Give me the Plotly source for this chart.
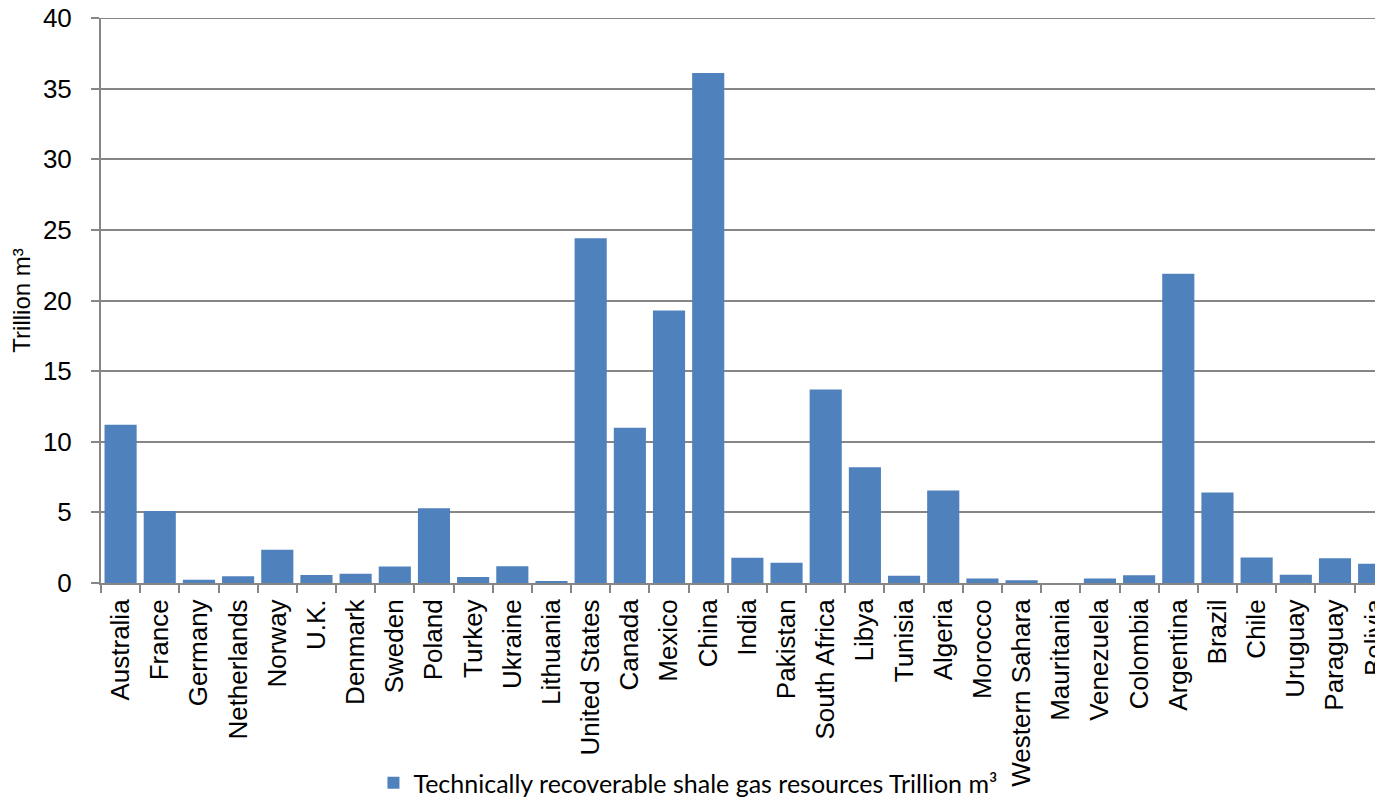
import plotly.graph_objects as go

countries = ["Australia", "France", "Germany", "Netherlands", "Norway", "U.K.", "Denmark",
             "Sweden", "Poland", "Turkey", "Ukraine", "Lithuania", "United States", "Canada",
             "Mexico", "China", "India", "Pakistan", "South Africa", "Libya", "Tunisia",
             "Algeria", "Morocco", "Western Sahara", "Mauritania", "Venezuela", "Colombia",
             "Argentina", "Brazil", "Chile", "Uruguay", "Paraguay", "Bolivia"]
resources = [11.2, 5.1, 0.23, 0.48, 2.35, 0.57, 0.65,
             1.16, 5.3, 0.42, 1.19, 0.11, 24.4, 11.0,
             19.3, 36.1, 1.78, 1.44, 13.7, 8.2, 0.51,
             6.54, 0.31, 0.2, 0.0, 0.31, 0.54,
             21.9, 6.4, 1.81, 0.59, 1.76, 1.36]
series_name = "Technically recoverable shale gas resources Trillion m³"
y_ticks = [0, 5, 10, 15, 20, 25, 30, 35, 40]

fig = go.Figure()
fig.add_trace(go.Bar(x=countries, y=resources, name=series_name,
                     marker=dict(color="#4F81BD", line=dict(width=0)),
                     width=0.82, showlegend=True))

grid = "#868686"
fig.update_layout(
    width=1383, height=797,
    margin=dict(l=93, r=0, t=10, b=222, autoexpand=False),
    paper_bgcolor="white", plot_bgcolor="white",
    font=dict(family="Liberation Sans, Arial, sans-serif", size=26, color="black"),
    showlegend=True,
    legend=dict(orientation="h", x=0.455, xanchor="center", y=-0.354, yanchor="middle",
                font=dict(family="Lato, Carlito, sans-serif", size=25, color="black"),
                itemwidth=30, bgcolor="rgba(0,0,0,0)"),
    bargap=0.18,
)
fig.update_xaxes(range=[-0.5, 32.43], tickangle=-90, tickson="boundaries", ticks="outside",
                 ticklen=8, tickcolor=grid, tickwidth=2, showline=True, linecolor=grid,
                 linewidth=2, showgrid=False, ticklabelstandoff=4, automargin=False,
                 ticklabeloverflow="allow", tickfont=dict(size=26))
fig.update_yaxes(range=[0, 40], tickvals=y_ticks, ticks="outside", ticklen=8, tickcolor=grid,
                 tickwidth=2, showline=True, linecolor=grid, linewidth=2, showgrid=True,
                 gridcolor=grid, gridwidth=2, zeroline=False, ticklabelstandoff=14,
                 tickfont=dict(size=26), automargin=False, ticklabeloverflow="allow",
                 title=dict(text="Trillion m³", font=dict(size=24), standoff=10))
fig.add_hline(y=40, line=dict(color=grid, width=2), layer="below")

fig.write_html("out.html")
